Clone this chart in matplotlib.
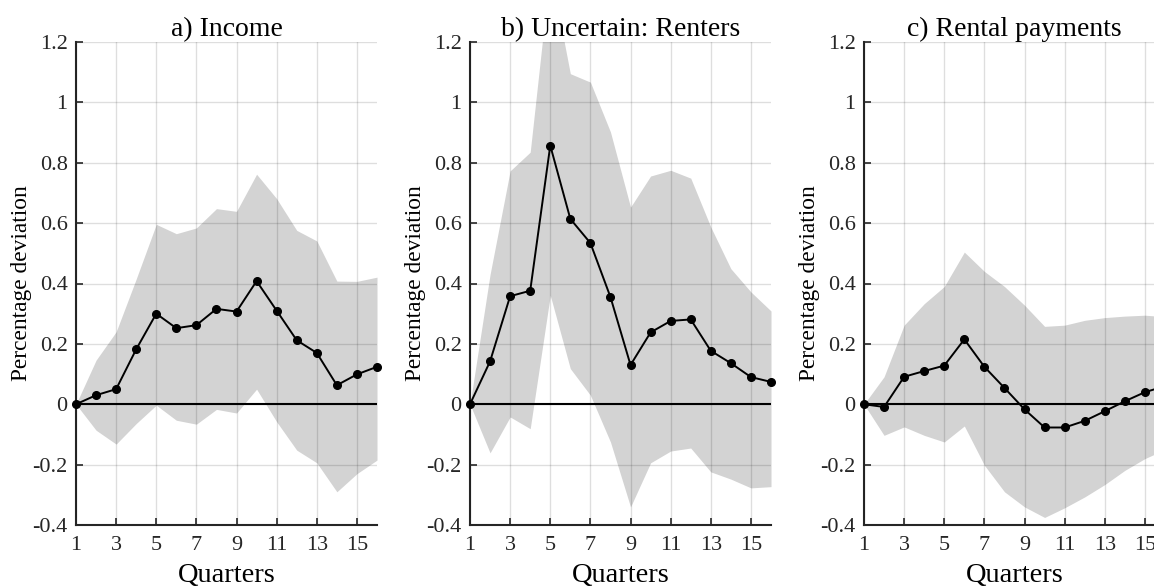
import numpy as np
import matplotlib
matplotlib.use("Agg")
import matplotlib.pyplot as plt

plt.rcParams['font.family'] = ['Liberation Serif', 'DejaVu Serif']

quarters = np.arange(1, 17)

# a) Income
income = [0, 0.030, 0.050, 0.182, 0.300, 0.252, 0.262, 0.316, 0.307, 0.408,
          0.310, 0.212, 0.170, 0.063, 0.099, 0.124]
income_hi = [0, 0.146, 0.240, 0.415, 0.596, 0.565, 0.584, 0.648, 0.639, 0.762,
             0.681, 0.576, 0.541, 0.408, 0.407, 0.421]
income_lo = [0, -0.086, -0.132, -0.064, -0.003, -0.053, -0.066, -0.017, -0.029, 0.050,
             -0.058, -0.152, -0.194, -0.290, -0.230, -0.185]

# b) Uncertain: Renters
renters = [0, 0.142, 0.358, 0.376, 0.857, 0.614, 0.534, 0.355, 0.130, 0.238,
           0.276, 0.281, 0.177, 0.136, 0.090, 0.074]
renters_hi = [0, 0.430, 0.773, 0.835, 1.440, 1.095, 1.067, 0.902, 0.653, 0.756,
              0.775, 0.749, 0.587, 0.449, 0.372, 0.309]
renters_lo = [0, -0.161, -0.042, -0.081, 0.361, 0.118, 0.030, -0.125, -0.340, -0.194,
              -0.155, -0.145, -0.224, -0.248, -0.277, -0.273]

# c) Rental payments
rent = [0, -0.009, 0.091, 0.110, 0.128, 0.215, 0.124, 0.054, -0.017, -0.077,
        -0.077, -0.055, -0.023, 0.010, 0.040, 0.060]
rent_hi = [0, 0.091, 0.262, 0.333, 0.390, 0.504, 0.440, 0.390, 0.328, 0.258,
           0.262, 0.278, 0.287, 0.292, 0.295, 0.290]
rent_lo = [0, -0.103, -0.075, -0.103, -0.125, -0.072, -0.202, -0.290, -0.340, -0.375,
           -0.343, -0.307, -0.266, -0.219, -0.180, -0.150]

titles = ['a) Income', 'b) Uncertain: Renters', 'c) Rental payments']
series = [(income, income_lo, income_hi),
          (renters, renters_lo, renters_hi),
          (rent, rent_lo, rent_hi)]

xticks = [1, 3, 5, 7, 9, 11, 13, 15]
yticks = [-0.4, -0.2, 0, 0.2, 0.4, 0.6, 0.8, 1.0, 1.2]
ytick_labels = ['-0.4', '-0.2', '0', '0.2', '0.4', '0.6', '0.8', '1', '1.2']

fig = plt.figure(figsize=(11.54, 5.88), dpi=100)
W, H = 1154, 588
lefts = [76, 470, 864]

for i in range(3):
    ax = fig.add_axes([lefts[i] / W, (H - 525) / H, 301 / W, 483 / H])
    mid, lo, hi = series[i]
    ax.fill_between(quarters, lo, hi, color='#d3d3d3', linewidth=0, zorder=1)
    ax.axhline(0, color='black', linewidth=1.5, zorder=2.6)
    ax.plot(quarters, mid, color='black', linewidth=1.4, marker='o',
            markersize=5.5, zorder=3, clip_on=False)

    ax.set_xlim(1, 16)
    ax.set_ylim(-0.4, 1.2)
    ax.set_xticks(xticks)
    ax.set_yticks(yticks)
    ax.set_yticklabels(ytick_labels)
    ax.set_axisbelow(False)
    ax.grid(True, color='black', alpha=0.13, linewidth=1.0)

    for s in ['top', 'right']:
        ax.spines[s].set_visible(False)
    for s in ['left', 'bottom']:
        ax.spines[s].set_linewidth(1.5)
        ax.spines[s].set_color('#262626')
    ax.tick_params(direction='in', length=5, width=1.2, labelsize=16,
                   colors='#262626', labelcolor='#262626')
    ax.tick_params(axis='x', pad=8)
    ax.tick_params(axis='y', pad=6)

    ax.set_title(titles[i], fontsize=20, pad=-2)
    ax.set_xlabel('Quarters', fontsize=20.5, labelpad=6)
    ax.set_ylabel('Percentage deviation', fontsize=16.8, labelpad=0)

fig.savefig('out.png', dpi=100)
